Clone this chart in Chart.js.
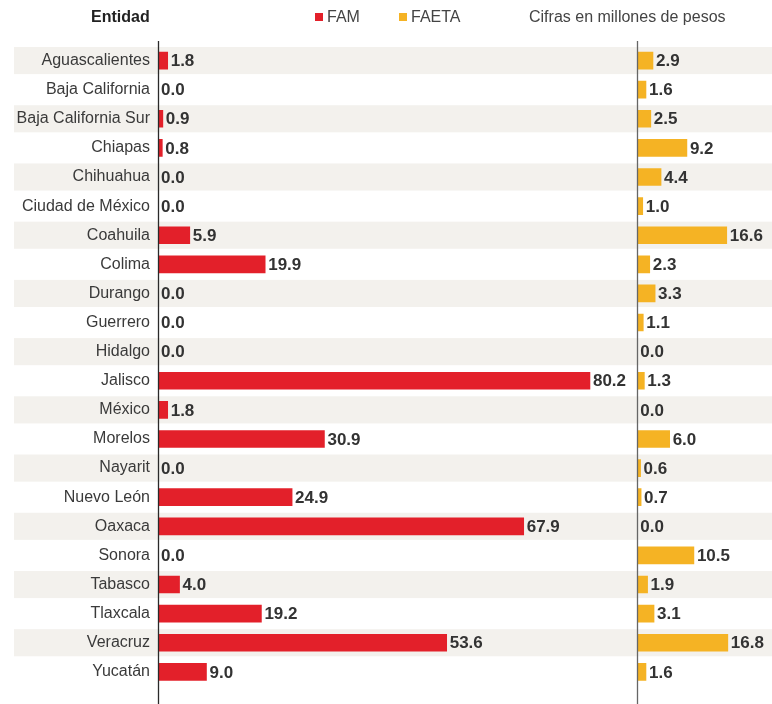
<!DOCTYPE html>
<html lang="es">
<head>
  <meta charset="UTF-8" />
  <title>FAM y FAETA por entidad</title>
  <script src="https://cdn.jsdelivr.net/npm/chart.js"></script>
  <style>
    body {
      margin: 0;
      background: #fff;
      font-family: 'Liberation Sans', sans-serif;
    }

    .wrap {
      position: relative;
      width: 772px;
      height: 704px;
    }

    canvas {
      position: absolute;
      left: 0;
      top: 0;
    }

    .head {
      position: absolute;
      top: 8px;
      font-size: 16px;
      color: #444;
      white-space: nowrap;
    }

    .head b { color: #222; }

    .sq {
      display: inline-block;
      width: 8px;
      height: 8px;
      margin-right: 4px;
      vertical-align: 1px;
    }
  </style>
</head>
<body>
  <div class="wrap">
    <canvas id="chart" width="772" height="704"></canvas>
    <div class="head" style="left:91px"><b>Entidad</b></div>
    <div class="head" style="left:315px"><span class="sq" style="background:#e3202a"></span>FAM</div>
    <div class="head" style="left:399px"><span class="sq" style="background:#f5b324"></span>FAETA</div>
    <div class="head" style="left:529px">Cifras en millones de pesos</div>
  </div>

  <script>
    const entidades = ['Aguascalientes', 'Baja California', 'Baja California Sur', 'Chiapas', 'Chihuahua',
      'Ciudad de México', 'Coahuila', 'Colima', 'Durango', 'Guerrero', 'Hidalgo', 'Jalisco', 'México',
      'Morelos', 'Nayarit', 'Nuevo León', 'Oaxaca', 'Sonora', 'Tabasco', 'Tlaxcala', 'Veracruz', 'Yucatán'];
    const fam = [1.8, 0.0, 0.9, 0.8, 0.0, 0.0, 5.9, 19.9, 0.0, 0.0, 0.0, 80.2, 1.8, 30.9, 0.0, 24.9, 67.9,
      0.0, 4.0, 19.2, 53.6, 9.0];
    const faeta = [2.9, 1.6, 2.5, 9.2, 4.4, 1.0, 16.6, 2.3, 3.3, 1.1, 0.0, 1.3, 0.0, 6.0, 0.6, 0.7, 0.0,
      10.5, 1.9, 3.1, 16.8, 1.6];

    const FONT = "'Liberation Sans', sans-serif";

    // franjas alternas detras de las filas
    const stripes = {
      id: 'stripes',
      beforeDraw(chart) {
        const ctx = chart.ctx;
        const y = chart.scales.y;
        const h = (chart.chartArea.bottom - chart.chartArea.top) / entidades.length;
        ctx.save();
        ctx.fillStyle = '#f3f1ed';
        entidades.forEach((e, i) => {
          if (i % 2 === 0) {
            const cy = y.getPixelForValue(i);
            ctx.fillRect(14, cy - h / 2 + 1, chart.width - 14, h - 2);
          }
        });
        ctx.restore();
      }
    };

    // ejes verticales y etiquetas de valor
    const marks = {
      id: 'marks',
      afterDatasetsDraw(chart) {
        const ctx = chart.ctx;
        ctx.save();
        ctx.lineWidth = 1.3;
        [['x', '#2a2a2a'], ['x2', '#666']].forEach(([id, col]) => {
          const x = Math.round(chart.scales[id].left) + 0.5;
          ctx.strokeStyle = col;
          ctx.beginPath();
          ctx.moveTo(x, 41);
          ctx.lineTo(x, chart.height);
          ctx.stroke();
        });
        ctx.font = 'bold 17px ' + FONT;
        ctx.fillStyle = '#333';
        ctx.textBaseline = 'middle';
        chart.data.datasets.forEach((ds, di) => {
          chart.getDatasetMeta(di).data.forEach((bar, i) => {
            ctx.fillText(ds.data[i].toFixed(1), bar.x + 3, bar.y + 1);
          });
        });
        ctx.restore();
      }
    };

    new Chart(document.getElementById('chart'), {
      type: 'bar',
      data: {
        labels: entidades,
        datasets: [{
          label: 'FAM',
          data: fam,
          xAxisID: 'x',
          backgroundColor: '#e3202a',
          barThickness: 17,
          grouped: false
        }, {
          label: 'FAETA',
          data: faeta,
          xAxisID: 'x2',
          backgroundColor: '#f5b324',
          barThickness: 17,
          grouped: false
        }]
      },
      options: {
        indexAxis: 'y',
        responsive: false,
        animation: false,
        layout: { padding: { top: 46, bottom: 1, left: 0, right: 0 } },
        plugins: {
          legend: { display: false },
          tooltip: { enabled: false }
        },
        scales: {
          x: {
            type: 'linear', position: 'bottom', min: 0, max: 89,
            stack: 'h', stackWeight: 89, display: false
          },
          x2: {
            type: 'linear', position: 'bottom', min: 0, max: 25,
            stack: 'h', stackWeight: 25, display: false
          },
          y: {
            grid: { display: false, drawTicks: false },
            border: { display: false },
            ticks: {
              color: '#3a3a3a',
              padding: 8,
              font: { family: FONT, size: 16 }
            },
            afterFit(s) { s.width = 158; }
          }
        }
      },
      plugins: [stripes, marks]
    });
  </script>
</body>
</html>
